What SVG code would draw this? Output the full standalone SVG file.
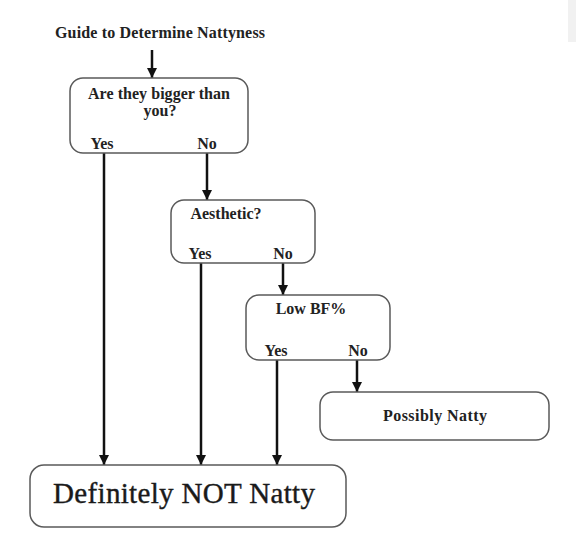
<svg xmlns="http://www.w3.org/2000/svg" width="576" height="544" viewBox="0 0 576 544">
<style>
.box{fill:#fff;stroke:#5a5a5a;stroke-width:1.5}
.t{font-family:"Liberation Serif","Times New Roman",serif;font-weight:bold;fill:#222;font-size:16px}
.big{font-family:"Liberation Serif","Times New Roman",serif;font-weight:normal;fill:#1a1a1a;font-size:29px;stroke:#1a1a1a;stroke-width:0.4}
.c{stroke:#111;stroke-width:2.5;fill:none}
</style>
<defs>
<marker id="ah" viewBox="0 0 10 10" refX="10" refY="5" markerWidth="4" markerHeight="4" markerUnits="strokeWidth" orient="auto">
<path d="M0,0 L10,5 L0,10 Z" fill="#111"/>
</marker>
</defs>
<rect width="576" height="544" fill="#fff"/>
<rect x="568" y="0" width="8" height="42" fill="#f1f1f1"/>
<text class="t" x="160" y="38" text-anchor="middle" textLength="210">Guide to Determine Nattyness</text>
<g id="connectors">
<line class="c" x1="152" y1="50" x2="152" y2="78" marker-end="url(#ah)"/>
<line class="c" x1="104" y1="153" x2="104" y2="465" marker-end="url(#ah)"/>
<line class="c" x1="207" y1="153" x2="207" y2="200" marker-end="url(#ah)"/>
<line class="c" x1="201" y1="263" x2="201" y2="465" marker-end="url(#ah)"/>
<line class="c" x1="283" y1="263" x2="283" y2="295" marker-end="url(#ah)"/>
<line class="c" x1="277" y1="360" x2="277" y2="465" marker-end="url(#ah)"/>
<line class="c" x1="357" y1="360" x2="357" y2="392" marker-end="url(#ah)"/>
</g>
<g id="q1">
<rect class="box" x="70" y="78" width="178" height="75" rx="13"/>
<text class="t" x="159" y="99" text-anchor="middle" textLength="142">Are they bigger than</text>
<text class="t" x="160" y="116" text-anchor="middle">you?</text>
<text class="t" x="102" y="149" text-anchor="middle">Yes</text>
<text class="t" x="207" y="149" text-anchor="middle">No</text>
</g>
<g id="q2">
<rect class="box" x="171" y="200" width="144" height="63" rx="13"/>
<text class="t" x="226" y="219" text-anchor="middle">Aesthetic?</text>
<text class="t" x="200" y="259" text-anchor="middle">Yes</text>
<text class="t" x="283" y="259" text-anchor="middle">No</text>
</g>
<g id="q3">
<rect class="box" x="246" y="295" width="144" height="65" rx="13"/>
<text class="t" x="311" y="314" text-anchor="middle">Low BF%</text>
<text class="t" x="276" y="356" text-anchor="middle">Yes</text>
<text class="t" x="358" y="356" text-anchor="middle">No</text>
</g>
<g id="possibly">
<rect class="box" x="320" y="392" width="229" height="48" rx="13"/>
<text class="t" x="435" y="421" text-anchor="middle" textLength="104">Possibly Natty</text>
</g>
<g id="definitely">
<rect class="box" x="30" y="465" width="316" height="62" rx="14"/>
<text class="big" x="184" y="503" text-anchor="middle" textLength="262">Definitely NOT Natty</text>
</g>
</svg>
